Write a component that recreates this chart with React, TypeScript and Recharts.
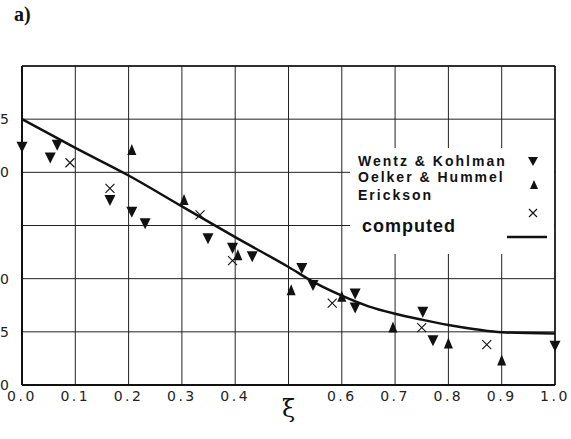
import React from 'react';
import {
  ComposedChart,
  Line,
  Scatter,
  XAxis,
  YAxis,
  CartesianGrid,
  ReferenceLine,
  Legend,
} from 'recharts';

// tick positions for both axes
const xiTicks = [0, 0.1, 0.2, 0.3, 0.4, 0.5, 0.6, 0.7, 0.8, 0.9, 1.0];
const valueTicks = [0, 0.5, 1, 1.5, 2, 2.5, 3];

// computed curve
const computed = [
  { xi: 0, v: 2.5 },
  { xi: 0.1, v: 2.23 },
  { xi: 0.2, v: 1.97 },
  { xi: 0.3, v: 1.68 },
  { xi: 0.4, v: 1.39 },
  { xi: 0.5, v: 1.11 },
  { xi: 0.55, v: 0.96 },
  { xi: 0.6, v: 0.84 },
  { xi: 0.65, v: 0.74 },
  { xi: 0.7, v: 0.67 },
  { xi: 0.75, v: 0.615 },
  { xi: 0.8, v: 0.565 },
  { xi: 0.85, v: 0.525 },
  { xi: 0.9, v: 0.495 },
  { xi: 1.0, v: 0.485 },
];

// measured points
const wentzKohlman = [
  { xi: 0, v: 2.24 },
  { xi: 0.053, v: 2.14 },
  { xi: 0.066, v: 2.26 },
  { xi: 0.165, v: 1.74 },
  { xi: 0.206, v: 1.63 },
  { xi: 0.231, v: 1.52 },
  { xi: 0.349, v: 1.38 },
  { xi: 0.395, v: 1.29 },
  { xi: 0.432, v: 1.21 },
  { xi: 0.525, v: 1.1 },
  { xi: 0.546, v: 0.94 },
  { xi: 0.625, v: 0.86 },
  { xi: 0.625, v: 0.73 },
  { xi: 0.752, v: 0.69 },
  { xi: 0.771, v: 0.42 },
  { xi: 1.0, v: 0.37 },
];

const oelkerHummel = [
  { xi: 0.206, v: 2.21 },
  { xi: 0.304, v: 1.74 },
  { xi: 0.405, v: 1.22 },
  { xi: 0.505, v: 0.89 },
  { xi: 0.6, v: 0.83 },
  { xi: 0.696, v: 0.54 },
  { xi: 0.8, v: 0.39 },
  { xi: 0.9, v: 0.23 },
];

const erickson = [
  { xi: 0.09, v: 2.09 },
  { xi: 0.165, v: 1.85 },
  { xi: 0.334, v: 1.6 },
  { xi: 0.395, v: 1.17 },
  { xi: 0.582, v: 0.77 },
  { xi: 0.75, v: 0.54 },
  { xi: 0.872, v: 0.38 },
];

const legendRows = ['Wentz & Kohlman', 'Oelker & Hummel', 'Erickson'];

const INK = '#111';

const DownTriangle = ({ cx, cy }: any) => (
  <path d={`M${cx - 5.5},${cy - 5}L${cx + 5.5},${cy - 5}L${cx},${cy + 6}Z`} fill={INK} />
);

const UpTriangle = ({ cx, cy }: any) => (
  <path d={`M${cx - 4.5},${cy + 5}L${cx + 4.5},${cy + 5}L${cx},${cy - 6}Z`} fill={INK} />
);

const Cross = ({ cx, cy }: any) => (
  <path
    d={`M${cx - 4.5},${cy - 4.5}L${cx + 4.5},${cy + 4.5}M${cx - 4.5},${cy + 4.5}L${cx + 4.5},${cy - 4.5}`}
    stroke={INK}
    strokeWidth={1.1}
    fill="none"
  />
);

const labelFont = {
  fontFamily: 'Liberation Sans, Arial, sans-serif',
  fontWeight: 'bold' as const,
  fontSize: 14,
  lineHeight: '14px',
  letterSpacing: 2,
  color: INK,
  position: 'absolute' as const,
  left: 8,
  whiteSpace: 'nowrap' as const,
};

function KeyBox() {
  return (
    <div style={{ position: 'relative', width: 204, height: 106, background: '#fff' }}>
      <div style={{ ...labelFont, top: 6 }}>{legendRows[0]}</div>
      <div style={{ ...labelFont, top: 22 }}>{legendRows[1]}</div>
      <div style={{ ...labelFont, top: 40 }}>{legendRows[2]}</div>
      <div style={{ ...labelFont, top: 70, fontSize: 18, lineHeight: '16px', letterSpacing: 1, left: 12 }}>
        computed
      </div>
      <svg width={204} height={106} style={{ position: 'absolute', left: 0, top: 0 }}>
        <path d="M178,9L188,9L183,18Z" fill={INK} />
        <path d="M180,41L188,41L184,32Z" fill={INK} />
        <path d="M179,61L187,69M179,69L187,61" stroke={INK} strokeWidth={1.1} />
        <line x1={157} x2={197} y1={89} y2={89} stroke={INK} strokeWidth={2.5} />
      </svg>
    </div>
  );
}

const fmtXi = (t: number) => (Math.abs(t - 0.5) < 1e-6 ? '' : t.toFixed(1));
// only the last digit of each value label sits left of the frame
const fmtValue = (t: number) => (t === 1.5 || t === 3 ? '' : t.toFixed(1).slice(-1));

const tickStyle = {
  fontFamily: 'DejaVu Sans, sans-serif',
  fontSize: 14,
  fill: '#222',
  letterSpacing: 2.5,
};

export default function App() {
  return (
    <div style={{ position: 'absolute', left: 0, top: 0, width: 571, height: 439, background: '#fff' }}>
      <div
        style={{
          position: 'absolute',
          left: 14,
          top: 3,
          fontFamily: 'Liberation Serif, serif',
          fontWeight: 'bold',
          fontSize: 20,
          color: INK,
        }}
      >
        a)
      </div>
      <ComposedChart width={571} height={439} margin={{ top: 66, right: 16, bottom: 0, left: 0 }}>
        <CartesianGrid stroke="#222" strokeWidth={1} />
        <XAxis
          type="number"
          dataKey="xi"
          domain={[0, 1]}
          ticks={xiTicks}
          tickFormatter={fmtXi}
          height={54}
          tickSize={0}
          tickMargin={6}
          axisLine={{ stroke: INK, strokeWidth: 2 }}
          tick={tickStyle}
          label={{
            value: 'ξ',
            position: 'insideBottom',
            offset: 22,
            style: { fontFamily: 'DejaVu Serif, serif', fontSize: 24, fill: INK },
          }}
        />
        <YAxis
          type="number"
          dataKey="v"
          domain={[0, 3]}
          ticks={valueTicks}
          tickFormatter={fmtValue}
          width={22}
          tickSize={0}
          tickMargin={13}
          axisLine={{ stroke: INK, strokeWidth: 2 }}
          tick={{ ...tickStyle, letterSpacing: 0 }}
        />
        <ReferenceLine y={3} stroke={INK} strokeWidth={1.5} />
        <ReferenceLine x={1} stroke={INK} strokeWidth={1.5} />
        <Line
          data={computed}
          dataKey="v"
          type="monotone"
          stroke={INK}
          strokeWidth={2.5}
          dot={false}
          isAnimationActive={false}
        />
        <Scatter data={wentzKohlman} dataKey="v" shape={DownTriangle} isAnimationActive={false} />
        <Scatter data={oelkerHummel} dataKey="v" shape={UpTriangle} isAnimationActive={false} />
        <Scatter data={erickson} dataKey="v" shape={Cross} isAnimationActive={false} />
        <Legend
          layout="horizontal"
          align="center"
          verticalAlign="middle"
          content={() => <KeyBox />}
          wrapperStyle={{ left: 350, top: 148, width: 204, height: 106 }}
        />
      </ComposedChart>
    </div>
  );
}
